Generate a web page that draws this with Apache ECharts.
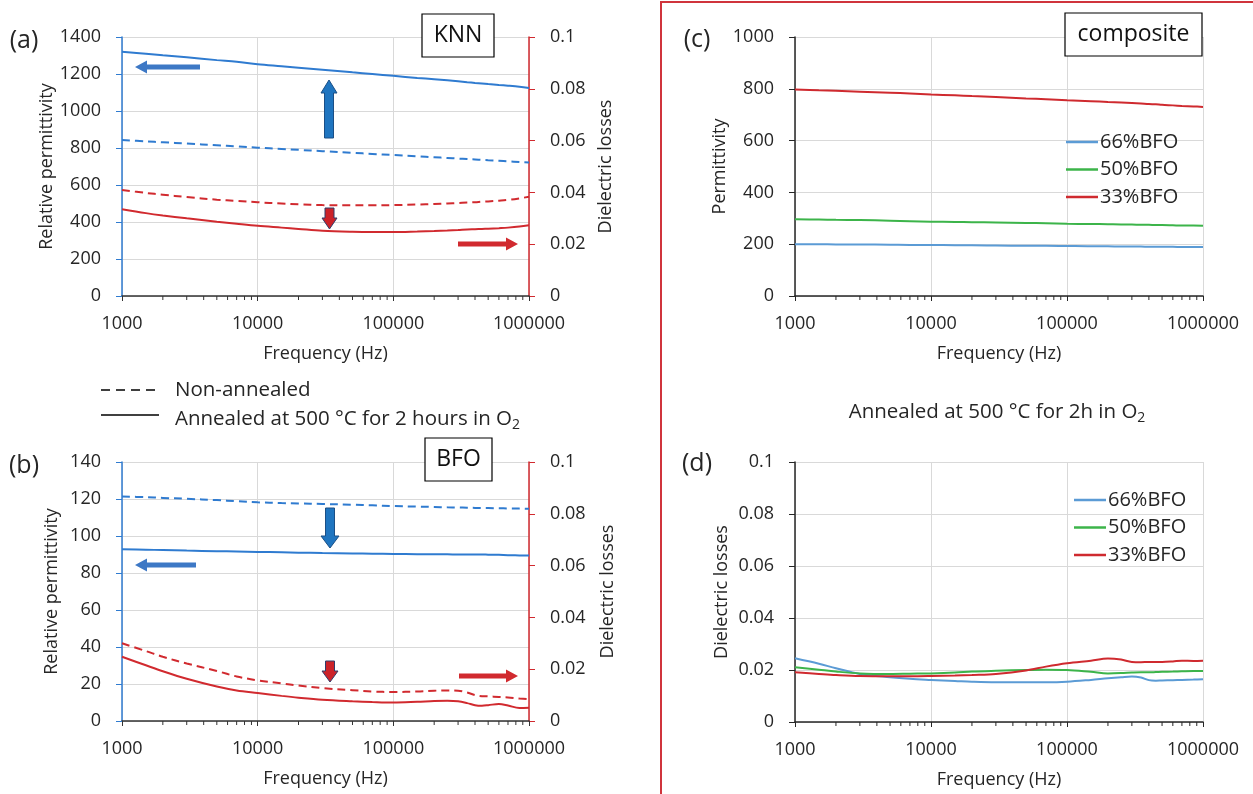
<!DOCTYPE html>
<html>
<head>
<meta charset="utf-8">
<script src="https://cdn.jsdelivr.net/npm/echarts@6/dist/echarts.min.js"></script>
<style>
  html, body { margin: 0; padding: 0; background: #fff; }
  #chart { width: 1253px; height: 794px; }
</style>
</head>
<body>
<div id="chart"></div>
<script>
  // frequencies (Hz) shared by every curve
  const FREQ = [1000, 1500, 2000, 3000, 5000, 7000, 10000, 15000, 20000, 30000, 50000, 70000,
    100000, 150000, 200000, 250000, 300000, 350000, 400000, 450000, 500000, 600000, 700000, 850000, 1000000]
  const MINOR_TICKS = [2000, 3000, 4000, 5000, 6000, 7000, 8000, 9000,
    20000, 30000, 40000, 50000, 60000, 70000, 80000, 90000,
    200000, 300000, 400000, 500000, 600000, 700000, 800000, 900000]

  // (a) KNN
  const knnPermAnnealed = [1320, 1309, 1301, 1290, 1275, 1266, 1253, 1242, 1234, 1223, 1209, 1200, 1190, 1179, 1172, 1166, 1161, 1156, 1152, 1149, 1146, 1141, 1137, 1131, 1124]
  const knnPermNonAnnealed = [843, 836, 831, 824, 815, 809, 802, 795, 790, 783, 774, 768, 762, 755, 750, 746, 743, 740, 738, 736, 734, 731, 728, 724, 721]
  const knnLossNonAnnealed = [0.0409, 0.0398, 0.0391, 0.0382, 0.0372, 0.0367, 0.0362, 0.0357, 0.0354, 0.0351, 0.0350, 0.0350, 0.0351, 0.0353, 0.0355, 0.0357, 0.0359, 0.0361, 0.0362, 0.0364, 0.0365, 0.0368, 0.0371, 0.0377, 0.0383]
  const knnLossAnnealed = [0.0335, 0.0320, 0.0311, 0.0300, 0.0287, 0.0279, 0.0271, 0.0264, 0.0259, 0.0252, 0.0248, 0.0247, 0.0247, 0.0249, 0.0251, 0.0253, 0.0255, 0.0257, 0.0258, 0.0259, 0.0260, 0.0262, 0.0264, 0.0268, 0.0273]

  // (b) BFO
  const bfoPermNonAnnealed = [121.3, 121.0, 120.6, 120.1, 119.4, 118.8, 118.2, 117.8, 117.6, 117.3, 116.9, 116.6, 116.2, 115.9, 115.7, 115.5, 115.4, 115.3, 115.2, 115.1, 115.1, 115.0, 114.9, 114.8, 114.7]
  const bfoPermAnnealed = [92.9, 92.6, 92.4, 92.1, 91.8, 91.6, 91.4, 91.2, 91.0, 90.8, 90.6, 90.4, 90.3, 90.2, 90.1, 90.1, 90.0, 90.0, 90.0, 90.0, 89.9, 89.8, 89.6, 89.5, 89.4]
  const bfoLossNonAnnealed = [0.0300, 0.0270, 0.0248, 0.0222, 0.0193, 0.0172, 0.0157, 0.0145, 0.0137, 0.0127, 0.0119, 0.0114, 0.0112, 0.0114, 0.0117, 0.0118, 0.0117, 0.0110, 0.0100, 0.0096, 0.0095, 0.0093, 0.0091, 0.0087, 0.0084]
  const bfoLossAnnealed = [0.0248, 0.0215, 0.0192, 0.0163, 0.0133, 0.0118, 0.0108, 0.0097, 0.0090, 0.0082, 0.0076, 0.0073, 0.0071, 0.0074, 0.0077, 0.0078, 0.0076, 0.0069, 0.0061, 0.0059, 0.0061, 0.0066, 0.0060, 0.0050, 0.0051]

  // (c) composite permittivity
  const perm66 = [200, 200, 199, 199, 198, 197, 197, 196, 196, 195, 194, 194, 193, 192, 192, 191, 191, 191, 190, 190, 190, 190, 189, 189, 189]
  const perm50 = [296, 295, 294, 293, 291, 289, 287, 286, 285, 284, 282, 281, 279, 278, 277, 276, 276, 275, 275, 274, 274, 273, 272, 272, 271]
  const perm33 = [797, 794, 792, 789, 785, 782, 778, 775, 772, 768, 763, 760, 756, 752, 749, 747, 745, 743, 741, 740, 738, 736, 734, 732, 730]

  // (d) composite losses
  const loss66 = [0.0245, 0.0224, 0.0207, 0.0185, 0.0172, 0.0166, 0.0162, 0.0158, 0.0155, 0.0153, 0.0153, 0.0153, 0.0155, 0.0162, 0.0168, 0.0172, 0.0175, 0.0171, 0.0161, 0.0159, 0.0160, 0.0161, 0.0162, 0.0163, 0.0164]
  const loss50 = [0.0211, 0.0201, 0.0194, 0.0187, 0.0185, 0.0186, 0.0187, 0.0190, 0.0194, 0.0197, 0.0200, 0.0201, 0.0200, 0.0193, 0.0187, 0.0188, 0.0190, 0.0191, 0.0191, 0.0192, 0.0193, 0.0194, 0.0195, 0.0196, 0.0196]
  const loss33 = [0.0191, 0.0185, 0.0181, 0.0177, 0.0176, 0.0176, 0.0177, 0.0179, 0.0181, 0.0185, 0.0198, 0.0213, 0.0226, 0.0236, 0.0244, 0.0240, 0.0231, 0.0230, 0.0231, 0.0231, 0.0231, 0.0233, 0.0236, 0.0235, 0.0236]

  const FONT = '"Open Sans", "Noto Sans", sans-serif'
  const TXT = '#262626'
  const BLUE = '#2f7bd0'
  const RED = '#d12a2f'
  const C_BLUE = '#5b9bd5'
  const C_GREEN = '#3cb44a'
  const C_RED = '#cf2a2f'
  const GRIDLINE = '#d9d9d9'

  const pairs = ys => FREQ.map((f, i) => [f, ys[i]])

  function xAxis(gridIndex, color) {
    return {
      type: 'log', logBase: 10, gridIndex: gridIndex, min: 1000, max: 1000000,
      name: 'Frequency (Hz)', nameLocation: 'middle', nameGap: 49,
      nameTextStyle: { fontFamily: FONT, fontSize: 18, color: TXT },
      axisLine: { lineStyle: { color: color, width: 1.5 } },
      axisTick: { show: true, length: 5, lineStyle: { color: color } },
      axisLabel: { formatter: v => String(Math.round(v)), fontFamily: FONT, fontSize: 18, color: TXT, margin: 19 },
      splitLine: { show: true, lineStyle: { color: GRIDLINE } }
    }
  }

  function yAxis(gridIndex, opt) {
    return {
      type: 'value', gridIndex: gridIndex, min: 0, max: opt.max, interval: opt.step,
      position: opt.pos || 'left',
      name: opt.name, nameLocation: 'middle', nameGap: opt.gap,
      nameTextStyle: { fontFamily: FONT, fontSize: 18, color: TXT },
      axisLine: { show: true, lineStyle: { color: opt.color, width: 1.5 } },
      axisTick: { show: true, length: 6, lineStyle: { color: opt.color } },
      axisLabel: { formatter: v => String(+v.toFixed(4)), fontFamily: FONT, fontSize: 18, color: TXT, margin: 21 },
      splitLine: { show: opt.split !== false, lineStyle: { color: GRIDLINE } }
    }
  }

  function line(name, x, y, data, color, dashed) {
    return {
      name: name, type: 'line', xAxisIndex: x, yAxisIndex: y, data: pairs(data),
      showSymbol: false, smooth: 0.35, silent: true,
      lineStyle: { color: color, width: 2, type: dashed ? [8, 5] : 'solid' },
      itemStyle: { color: color }
    }
  }

  // small ticks at 2..9 of each decade along the frequency axis
  function minorTicks(x, y, color) {
    return {
      type: 'custom', xAxisIndex: x, yAxisIndex: y, silent: true, clip: false,
      data: MINOR_TICKS.map(f => [f, 0]),
      renderItem: function (params, api) {
        const p = api.coord([api.value(0), 0])
        return {
          type: 'line',
          shape: { x1: p[0], y1: p[1], x2: p[0], y2: p[1] + 4 },
          style: { stroke: color, lineWidth: 1 }
        }
      }
    }
  }

  function label(text, x, y, size) {
    return { type: 'text', x: x, y: y, z: 10,
      style: { text: text, font: size + 'px ' + FONT, fill: TXT, align: 'center', verticalAlign: 'middle' } }
  }
  function box(text, x, y, w, h) {
    return [
      { type: 'rect', z: 10, shape: { x: x, y: y, width: w, height: h }, style: { fill: '#fff', stroke: '#000', lineWidth: 1.2 } },
      { type: 'text', z: 11, x: x + w / 2, y: y + h / 2,
        style: { text: text, font: '23px ' + FONT, fill: '#111', align: 'center', verticalAlign: 'middle' } }
    ]
  }
  // arrows drawn as polygons: horizontal (dir -1 left / +1 right) or vertical (dir -1 up / +1 down)
  function hArrow(x0, x1, cy, dir, color) {
    const tip = dir < 0 ? x0 : x1
    const base = tip - dir * 12
    const tail = dir < 0 ? x1 : x0
    return { type: 'polygon', z: 10, shape: { points: [[tip, cy], [base, cy - 6.5], [base, cy - 2.5], [tail, cy - 2.5], [tail, cy + 2.5], [base, cy + 2.5], [base, cy + 6.5]] },
      style: { fill: color } }
  }
  function vArrow(cx, y0, y1, dir, half, headLen, fill, stroke) {
    const tip = dir < 0 ? y0 : y1
    const base = tip - dir * headLen
    const tail = dir < 0 ? y1 : y0
    return { type: 'polygon', z: 10, shape: { points: [[cx, tip], [cx + half, base], [cx + 4.5, base], [cx + 4.5, tail], [cx - 4.5, tail], [cx - 4.5, base], [cx - half, base]] },
      style: { fill: fill, stroke: stroke, lineWidth: 1 } }
  }

  const legendStyle = {
    data: ['66%BFO', '50%BFO', '33%BFO'], orient: 'vertical',
    icon: 'rect', itemWidth: 32, itemHeight: 2.5, itemGap: 7.5, padding: 0,
    textStyle: { fontFamily: FONT, fontSize: 20, color: TXT, padding: [0, 0, 0, -3] }
  }

  const myChart = echarts.init(document.getElementById('chart'))
  myChart.setOption({
    animation: false,
    backgroundColor: '#fff',
    grid: [
      { left: 122, top: 37, width: 407, height: 259 },
      { left: 122, top: 462, width: 407, height: 259 },
      { left: 795, top: 37, width: 408, height: 259 },
      { left: 795, top: 462, width: 408, height: 260 }
    ],
    xAxis: [
      xAxis(0, '#333'),
      xAxis(1, '#333'),
      xAxis(2, '#262626'),
      xAxis(3, '#262626')
    ],
    yAxis: [
      yAxis(0, { max: 1400, step: 200, name: 'Relative permittivity', gap: 59, color: BLUE }),
      yAxis(0, { max: 0.1, step: 0.02, name: 'Dielectric losses', gap: 68, color: RED, pos: 'right', split: false }),
      yAxis(1, { max: 140, step: 20, name: 'Relative permittivity', gap: 61, color: BLUE }),
      yAxis(1, { max: 0.1, step: 0.02, name: 'Dielectric losses', gap: 70, color: RED, pos: 'right', split: false }),
      yAxis(2, { max: 1000, step: 200, name: 'Permittivity', gap: 66, color: '#262626' }),
      yAxis(3, { max: 0.1, step: 0.02, name: 'Dielectric losses', gap: 64, color: '#262626' })
    ],
    legend: [
      Object.assign({ left: 1066, top: 132 }, legendStyle),
      Object.assign({ left: 1074, top: 490 }, legendStyle)
    ],
    series: [
      line('KNN annealed', 0, 0, knnPermAnnealed, BLUE, false),
      line('KNN non-annealed', 0, 0, knnPermNonAnnealed, BLUE, true),
      line('KNN loss non-annealed', 0, 1, knnLossNonAnnealed, RED, true),
      line('KNN loss annealed', 0, 1, knnLossAnnealed, RED, false),
      line('BFO non-annealed', 1, 2, bfoPermNonAnnealed, BLUE, true),
      line('BFO annealed', 1, 2, bfoPermAnnealed, BLUE, false),
      line('BFO loss non-annealed', 1, 3, bfoLossNonAnnealed, RED, true),
      line('BFO loss annealed', 1, 3, bfoLossAnnealed, RED, false),
      line('66%BFO', 2, 4, perm66, C_BLUE, false),
      line('50%BFO', 2, 4, perm50, C_GREEN, false),
      line('33%BFO', 2, 4, perm33, C_RED, false),
      line('66%BFO', 3, 5, loss66, C_BLUE, false),
      line('50%BFO', 3, 5, loss50, C_GREEN, false),
      line('33%BFO', 3, 5, loss33, C_RED, false),
      minorTicks(0, 0, '#333'),
      minorTicks(1, 2, '#333'),
      minorTicks(2, 4, '#262626'),
      minorTicks(3, 5, '#262626')
    ],
    graphic: [
      // red frame around the composite panels
      { type: 'rect', z: 1, shape: { x: 661, y: 2, width: 700, height: 900 }, style: { fill: 'none', stroke: '#d0343c', lineWidth: 2 } },
      label('(a)', 24, 41, 25),
      label('(b)', 24, 466, 25),
      label('(c)', 697, 40, 25),
      label('(d)', 697, 464, 25),
      ...box('KNN', 422, 14, 72, 43),
      ...box('BFO', 425, 438, 67, 43),
      ...box('composite', 1065, 13, 137, 43),
      // line-style key for (a) and (b)
      { type: 'line', z: 10, shape: { x1: 101, y1: 390, x2: 158, y2: 390 }, style: { stroke: '#000', lineWidth: 1.6, lineDash: [9, 6] } },
      { type: 'line', z: 10, shape: { x1: 101, y1: 415, x2: 159, y2: 415 }, style: { stroke: '#000', lineWidth: 1.6 } },
      { type: 'text', z: 10, x: 175, y: 390, style: { text: 'Non-annealed', font: '20.5px ' + FONT, fill: TXT, align: 'left', verticalAlign: 'middle' } },
      { type: 'text', z: 10, x: 175, y: 419,
        style: { text: 'Annealed at 500 °C for 2 hours in O{s|2}', font: '20.5px ' + FONT, fill: TXT, align: 'left', verticalAlign: 'middle',
          rich: { s: { fontSize: 14, fontFamily: FONT, fill: TXT, padding: [12, 0, 0, 0] } } } },
      { type: 'text', z: 10, x: 997, y: 412,
        style: { text: 'Annealed at 500 °C for 2h in O{s|2}', font: '20.5px ' + FONT, fill: TXT, align: 'center', verticalAlign: 'middle',
          rich: { s: { fontSize: 14, fontFamily: FONT, fill: TXT, padding: [12, 0, 0, 0] } } } },
      // arrows in (a)
      hArrow(135, 200, 67, -1, '#3d78c5'),
      vArrow(329, 80, 138, -1, 8, 13, '#1f75c0', '#1b4f86'),
      vArrow(329.5, 208, 229, 1, 7.5, 11, '#cc2229', '#2f3d6b'),
      hArrow(458, 518, 244, 1, RED),
      // arrows in (b)
      hArrow(135, 196, 565, -1, '#3d78c5'),
      vArrow(330, 508, 548, 1, 9, 12, '#1f75c0', '#1b4f86'),
      vArrow(330, 661, 682, 1, 8, 11, '#cc2229', '#2f3d6b'),
      hArrow(459, 518, 676, 1, RED)
    ]
  })
</script>
</body>
</html>
